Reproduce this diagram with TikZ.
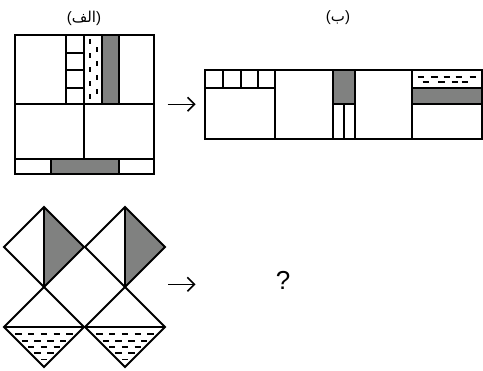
\documentclass[tikz,border=0pt]{standalone}
\usepackage{fontspec}
\setmainfont{Liberation Sans}
\newfontfamily\arabicfont[Script=Arabic]{DejaVu Sans}
\TeXXeTstate=1
\usetikzlibrary{arrows.meta}
\definecolor{tilegray}{RGB}{128,129,128}
\tikzset{
  edge/.style={line width=1.9pt},
  dashmark/.style={line width=1.9pt},
  caption/.style={inner sep=0pt, font=\fontsize{15}{17}\selectfont},
  maparrow/.style={line width=1.4pt, -{Straight Barb[length=7pt,width=14pt,line width=1.6pt]}}
}
\begin{document}
\begin{tikzpicture}[x=1pt, y=-1pt]
  \useasboundingbox (0,0) rectangle (483,371);
  % labels
  \node[caption] (alef) at (84,18) {({\arabicfont\beginR الف\endR})};
  \node[caption] (be) at (338,18) {({\arabicfont\beginR ب\endR})};
  % square (alef)
  \fill[tilegray] (101.7,35) rectangle (119.3,104.3);
  \fill[tilegray] (50.7,158.7) rectangle (119,174);
  \draw[edge] (15,35) rectangle (154,174);
  \draw[edge] (15,104.3) -- (154,104.3);
  \draw[edge] (15,158.7) -- (154,158.7);
  \foreach \x in {66,84.3,101.7,119.3}
    \draw[edge] (\x,35) -- (\x,104.3);
  \draw[edge] (84.3,104.3) -- (84.3,158.7);
  \draw[edge] (50.7,158.7) -- (50.7,174);
  \draw[edge] (119,158.7) -- (119,174);
  \foreach \y in {52.7,70,87.7}
    \draw[edge] (66,\y) -- (84.3,\y);
  \foreach \y in {42,56,70,84,97}
    \draw[dashmark] (90,\y-2.5) -- (90,\y+2.5);
  \foreach \y in {50,64,78,92}
    \draw[dashmark] (96.7,\y-2.5) -- (96.7,\y+2.5);
  % first arrow
  \coordinate (a1) at (167.7,104.3);
  \coordinate (a2) at (195.7,104.3);
  \draw[maparrow] (a1) -- (a2);
  % rectangle (be)
  \fill[tilegray] (332.7,70) rectangle (355.3,104.3);
  \fill[tilegray] (412.3,87.7) rectangle (482.3,104.3);
  \draw[edge] (205,70) rectangle (482,139);
  \foreach \x in {275,332.7,355.3,412.3}
    \draw[edge] (\x,70) -- (\x,139);
  \draw[edge] (205,88.3) -- (275,88.3);
  \foreach \x in {223.3,241,258.3}
    \draw[edge] (\x,70) -- (\x,88.3);
  \draw[edge] (332.7,104.3) -- (355.3,104.3);
  \draw[edge] (344,104.3) -- (344,139);
  \draw[edge] (412.3,87.7) -- (482.3,87.7);
  \draw[edge] (412.3,104.3) -- (482.3,104.3);
  \foreach \x in {421,434.5,447,459,473}
    \draw[dashmark] (\x-3.3,76.7) -- (\x+3.3,76.7);
  \foreach \x in {426,441.5,455,465}
    \draw[dashmark] (\x-3.3,82.3) -- (\x+3.3,82.3);
  % diamonds
  \foreach \cx in {44,125} {
    \fill[tilegray] (\cx,207) -- (\cx+40,247) -- (\cx,287) -- cycle;
    \draw[edge] (\cx,207) -- (\cx+40,247) -- (\cx,287) -- (\cx-40,247) -- cycle;
    \draw[edge] (\cx,207) -- (\cx,287);
    \draw[edge] (\cx,287) -- (\cx+40,327) -- (\cx,367) -- (\cx-40,327) -- cycle;
    \draw[edge] (\cx-40,327) -- (\cx+40,327);
    \foreach \r in {0,...,4} {
      \pgfmathtruncatemacro{\n}{4-\r}
      \foreach \k in {0,...,\n}
        \draw[dashmark] ({\cx+(\k-\n/2)*12.8-3.2},334.3+6.3*\r) -- ++(6.4,0);
    }
  }
  % second arrow
  \coordinate (b1) at (168,284.3);
  \coordinate (b2) at (195.5,284.3);
  \draw[maparrow] (b1) -- (b2);
  \node[font=\fontsize{26}{28}\selectfont, inner sep=0pt] (query) at (283,280) {?};
\end{tikzpicture}
\end{document}
